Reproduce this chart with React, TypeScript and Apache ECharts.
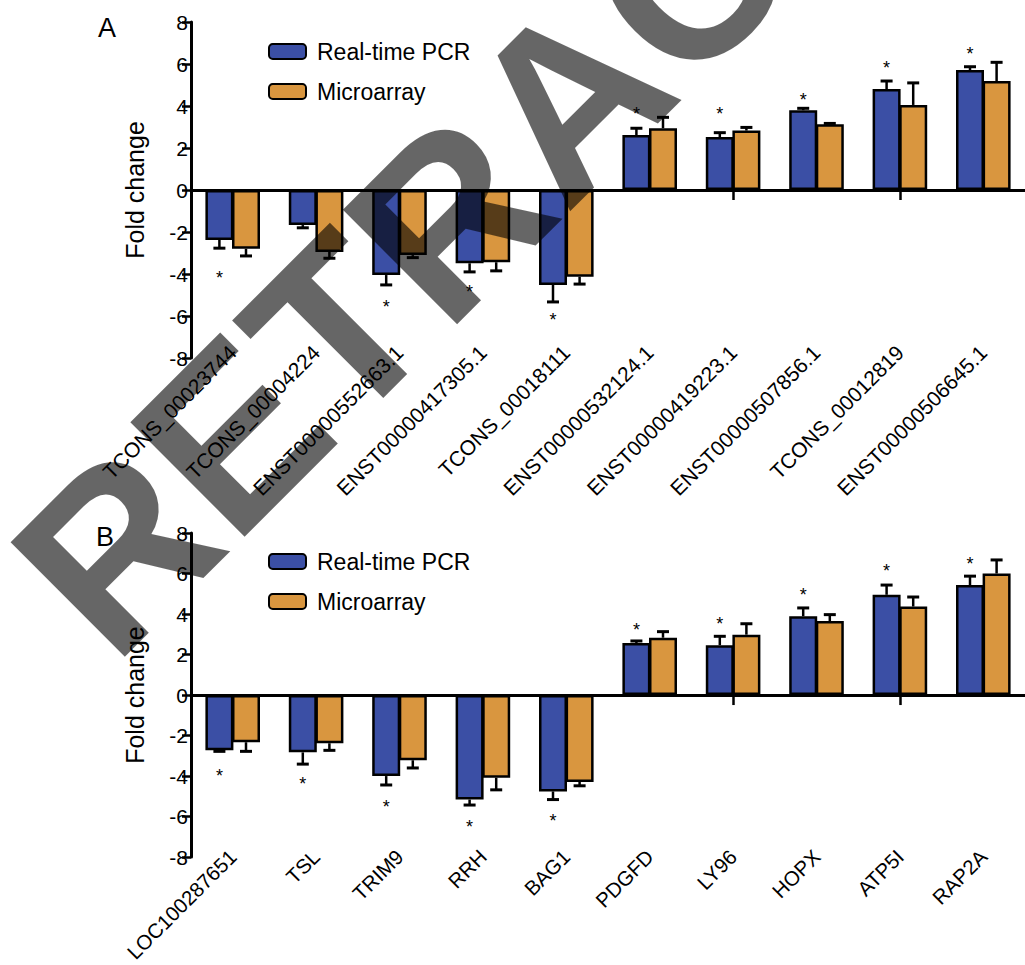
import React, { useEffect, useRef } from 'react';
import * as echarts from 'echarts';

const FONT = '"Liberation Sans", Arial, Helvetica, sans-serif';

const categoriesA = [
  'TCONS_00023744', 'TCONS_00004224', 'ENST00000552663.1', 'ENST00000417305.1', 'TCONS_00018111',
  'ENST00000532124.1', 'ENST00000419223.1', 'ENST00000507856.1', 'TCONS_00012819', 'ENST00000506645.1',
];
const pcrA = [-2.38, -1.67, -4.05, -3.49, -4.52, 2.62, 2.52, 3.8, 4.81, 5.71];
const pcrErrA = [0.39, 0.13, 0.47, 0.41, 0.81, 0.32, 0.21, 0.09, 0.38, 0.16];
const arrayA = [-2.8, -2.95, -3.1, -3.44, -4.13, 2.94, 2.83, 3.13, 4.05, 5.19];
const arrayErrA = [0.34, 0.3, 0.12, 0.41, 0.35, 0.52, 0.15, 0.04, 1.05, 0.89];
const starsA: (number | null)[] = [-3.95, null, -5.33, -4.62, -5.95, 3.86, 3.86, 4.52, 6.05, 6.71];

const categoriesB = ['LOC100287651', 'TSL', 'TRIM9', 'RRH', 'BAG1', 'PDGFD', 'LY96', 'HOPX', 'ATP5I', 'RAP2A'];
const pcrB = [-2.73, -2.83, -4.0, -5.16, -4.76, 2.57, 2.46, 3.89, 4.95, 5.43];
const pcrErrB = [0.05, 0.58, 0.44, 0.27, 0.4, 0.1, 0.44, 0.41, 0.48, 0.44];
const arrayB = [-2.33, -2.38, -3.22, -4.08, -4.29, 2.83, 2.98, 3.65, 4.37, 6.0];
const arrayErrB = [0.45, 0.35, 0.38, 0.6, 0.19, 0.3, 0.54, 0.32, 0.47, 0.67];
const starsB: (number | null)[] = [-3.76, -4.14, -5.29, -6.29, -5.95, 3.48, 3.76, 5.19, 6.38, 6.71];

const seriesNames = ['Real-time PCR', 'Microarray'];
const panelLabels = ['A', 'B'];
const watermark = 'RETRACTED';

const BLUE = '#3b4fa5';
const ORANGE = '#d9963f';
const BAR_W = 28;
const BAR_GAP = -0.05;
const HALF = (BAR_W * (1 + BAR_GAP)) / 2;

function errorSeries(name: string, values: number[], errs: number[], axisIdx: number, offset: number) {
  return {
    name,
    type: 'custom',
    xAxisIndex: axisIdx * 2,
    yAxisIndex: axisIdx,
    z: 4,
    silent: true,
    data: values.map((v, i) => [i, v, errs[i]]),
    renderItem: (_p: any, api: any) => {
      const i = api.value(0);
      const v = api.value(1);
      const e = api.value(2);
      const end = v >= 0 ? v + e : v - e;
      const p0 = api.coord([i, v]);
      const p1 = api.coord([i, end]);
      const x = p0[0] + offset;
      return {
        type: 'group',
        children: [
          { type: 'line', shape: { x1: x, y1: p0[1], x2: x, y2: p1[1] }, style: { stroke: '#000', lineWidth: 2.5 } },
          { type: 'line', shape: { x1: x - 6, y1: p1[1], x2: x + 6, y2: p1[1] }, style: { stroke: '#000', lineWidth: 3 } },
        ],
      };
    },
  };
}

function starSeries(name: string, stars: (number | null)[], axisIdx: number) {
  return {
    name,
    type: 'custom',
    xAxisIndex: axisIdx * 2,
    yAxisIndex: axisIdx,
    z: 5,
    silent: true,
    data: stars.map((s, i) => [i, s]).filter((d) => d[1] !== null),
    renderItem: (_p: any, api: any) => {
      const p = api.coord([api.value(0), api.value(1)]);
      return {
        type: 'text',
        x: p[0] - HALF,
        y: p[1] + 5,
        style: { text: '*', fontSize: 18, fontFamily: FONT, fill: '#000', align: 'center', verticalAlign: 'middle' },
      };
    },
  };
}

function barSeries(name: string, values: number[], axisIdx: number, color: string) {
  return {
    name,
    type: 'bar',
    xAxisIndex: axisIdx * 2,
    yAxisIndex: axisIdx,
    barWidth: BAR_W,
    barGap: `${BAR_GAP * 100}%`,
    z: 2,
    itemStyle: { color, borderColor: '#000', borderWidth: 2.5 },
    data: values,
  };
}

export default function App() {
  const ref = useRef<HTMLDivElement>(null);
  useEffect(() => {
    if (!ref.current) return;
    const chart = echarts.init(ref.current, undefined, { renderer: 'svg' });
    const grids = [
      { left: 191, top: 22, width: 842, height: 336 },
      { left: 191, top: 533, width: 842, height: 334 },
    ];
    const cats = [categoriesA, categoriesB];
    const labelFont = [21, 20.5];
    const labelMargin = [-9, -4];
    const xAxis: any[] = [];
    cats.forEach((c, g) => {
      xAxis.push({
        type: 'category',
        gridIndex: g,
        data: c,
        axisLine: { onZero: true, lineStyle: { color: '#000', width: 3 } },
        axisTick: { show: true, alignWithLabel: true, length: 10, lineStyle: { color: '#000', width: 2.5 } },
        axisLabel: { show: false },
        splitLine: { show: false },
      });
      xAxis.push({
        type: 'category',
        gridIndex: g,
        data: c,
        position: 'bottom',
        axisLine: { show: false, onZero: false },
        axisTick: { show: false },
        axisLabel: {
          show: true,
          interval: 0,
          rotate: 45,
          margin: labelMargin[g],
          fontSize: labelFont[g],
          color: '#000',
          fontFamily: FONT,
        },
        splitLine: { show: false },
      });
    });
    const yAxis = [0, 1].map((g) => ({
      type: 'value',
      gridIndex: g,
      min: -8,
      max: 8,
      interval: 2,
      name: 'Fold change',
      nameLocation: 'middle',
      nameGap: 44,
      nameTextStyle: { fontSize: 25, color: '#000', fontFamily: FONT },
      axisLine: { show: true, lineStyle: { color: '#000', width: 3 } },
      axisTick: { show: true, length: 9, lineStyle: { color: '#000', width: 2.5 } },
      axisLabel: { fontSize: 21, color: '#000', fontFamily: FONT, margin: 3 },
      splitLine: { show: false },
    }));
    const legendTops = [35, 545];
    const legend = legendTops.map((t) => ({
      left: 263,
      top: t,
      orient: 'vertical',
      itemWidth: 37,
      itemHeight: 15,
      itemGap: 17,
      data: seriesNames,
      textStyle: { fontSize: 23, color: '#000', fontFamily: FONT, padding: [0, 0, 0, 6] },
      selectedMode: false,
    }));
    const option: any = {
      animation: false,
      backgroundColor: '#fff',
      grid: grids,
      xAxis,
      yAxis,
      legend,
      series: [
        barSeries(seriesNames[0], pcrA, 0, BLUE),
        barSeries(seriesNames[1], arrayA, 0, ORANGE),
        barSeries(seriesNames[0], pcrB, 1, BLUE),
        barSeries(seriesNames[1], arrayB, 1, ORANGE),
        errorSeries('errPcrA', pcrA, pcrErrA, 0, -HALF),
        errorSeries('errArrA', arrayA, arrayErrA, 0, HALF),
        errorSeries('errPcrB', pcrB, pcrErrB, 1, -HALF),
        errorSeries('errArrB', arrayB, arrayErrB, 1, HALF),
        starSeries('starsA', starsA, 0),
        starSeries('starsB', starsB, 1),
      ],
      graphic: [
        { type: 'text', x: 107, y: 28, z: 50, style: { text: panelLabels[0], fontSize: 27, fontFamily: FONT, fill: '#000', align: 'center', verticalAlign: 'middle' } },
        { type: 'text', x: 105, y: 537, z: 50, style: { text: panelLabels[1], fontSize: 27, fontFamily: FONT, fill: '#000', align: 'center', verticalAlign: 'middle' } },
        {
          type: 'text',
          x: 56,
          y: 610,
          rotation: Math.PI / 4,
          z: 100,
          silent: true,
          style: {
            text: watermark,
            fontSize: 235,
            fontWeight: 'bold',
            fontFamily: FONT,
            fill: 'rgba(0,0,0,0.6)',
            align: 'left',
            verticalAlign: 'middle',
          },
        },
      ],
    };
    chart.setOption(option);
    return () => chart.dispose();
  }, []);
  return <div ref={ref} style={{ position: 'fixed', left: 0, top: 0, width: 1025, height: 965, background: '#fff' }} />;
}
